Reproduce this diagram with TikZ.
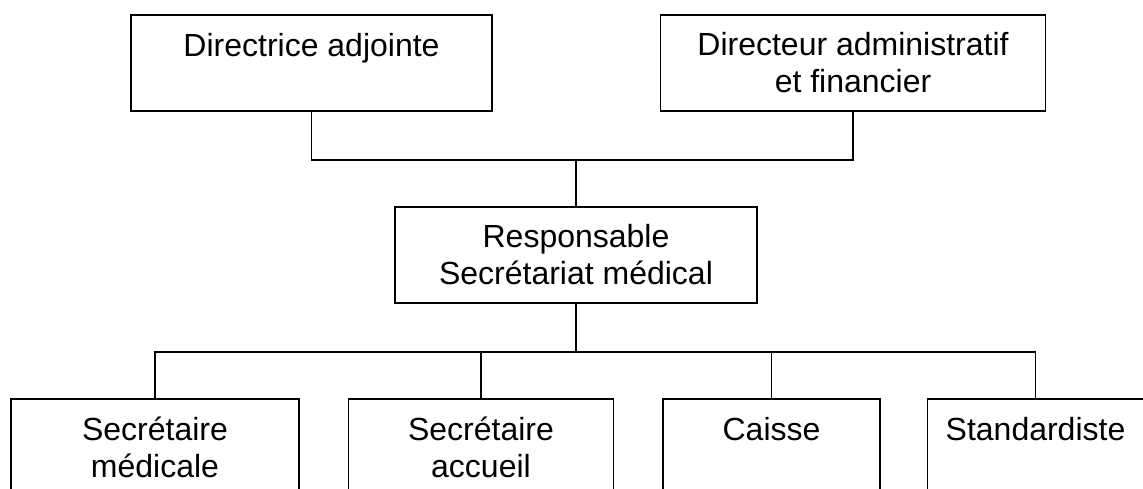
\documentclass[tikz,border=0pt]{standalone}
\usepackage{fontspec}
\setmainfont{Liberation Sans}
\usetikzlibrary{positioning}

\begin{document}
\begin{tikzpicture}[
    x=0.5pt, y=-0.5pt,
    box/.style={rectangle, draw, line width=0.75pt, minimum height=48pt, align=center, font=\fontsize{16}{18.5}\selectfont},
    line/.style={line width=0.75pt},
    thickline/.style={line width=1.25pt}
]
\useasboundingbox (0,0) rectangle (1143,488);

% Top level - Directors
\node[box, minimum width=180.5pt] (adj) at (311.5,63) {Directrice adjointe\\~};
\node[box, minimum width=192.5pt, right=83.5pt of adj] (daf) {Directeur administratif\\et financier};

% Second level
\node[box, minimum width=181pt] (rsm) at (576,255) {Responsable\\Secrétariat médical};

% Third level - Staff
\node[box, minimum width=144pt] (sm) at (155,447) {Secrétaire\\médicale};
\node[box, minimum width=132.5pt, right=24pt of sm] (sa) {Secrétaire\\accueil};
\node[box, minimum width=108.5pt, right=24pt of sa] (ca) {Caisse\\~};
\node[box, minimum width=108pt, right=23pt of ca] (st) {Standardiste\\~};

% Connectors
\draw[line] (adj.south) -- ++(0,48) coordinate (abus) -| (daf.south);
\draw[line] (rsm.north) -- (rsm.north |- abus);
\draw[thickline] (rsm.south) -- ++(0,48) coordinate (bbus);
\draw[line] (sm.north) |- (bbus) -| (st.north);
\draw[line] (sa.north) -- (sa.north |- bbus);
\draw[line] (ca.north) -- (ca.north |- bbus);

\end{tikzpicture}
\end{document}
